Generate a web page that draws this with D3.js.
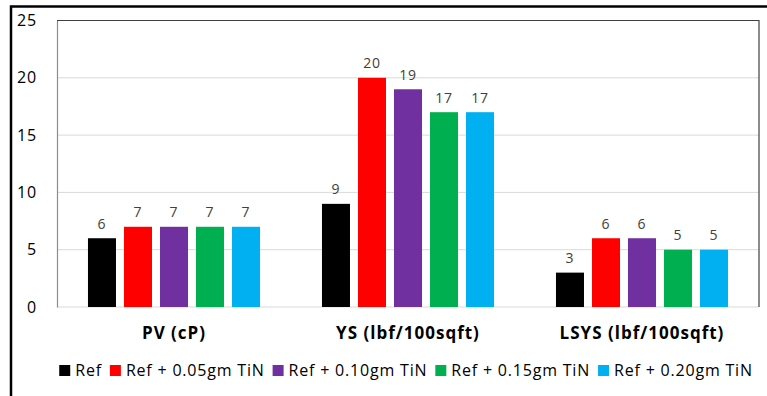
<!DOCTYPE html>
<html>
<head>
<meta charset="utf-8">
<script src="https://cdn.jsdelivr.net/npm/d3@7"></script>
<style>
  html, body { margin: 0; padding: 0; background: #fff; }
  svg { display: block; }
  text { font-family: "Open Sans", "Noto Sans", sans-serif; }
</style>
</head>
<body>
<svg id="chart" width="767" height="396"></svg>
<script>
// Drilling fluid rheology by TiN loading
const categories = ["PV (cP)", "YS (lbf/100sqft)", "LSYS (lbf/100sqft)"];
const seriesNames = ["Ref", "Ref + 0.05gm TiN", "Ref + 0.10gm TiN", "Ref + 0.15gm TiN", "Ref + 0.20gm TiN"];
const seriesColors = ["#000000", "#FF0000", "#7030A0", "#00B050", "#00B0F0"];
const refValues   = [6, 9, 3];
const tin005      = [7, 20, 6];
const tin010      = [7, 19, 6];
const tin015      = [7, 17, 5];
const tin020      = [7, 17, 5];
const yTicks = [0, 5, 10, 15, 20, 25];

const seriesValues = [refValues, tin005, tin010, tin015, tin020];

const svg = d3.select("#chart");

const plot = { left: 57, right: 759, top: 20.5, bottom: 307 };

const x0 = d3.scaleBand()
  .domain(categories)
  .range([plot.left, plot.right])
  .padding(0);

const x1 = d3.scaleBand()
  .domain(seriesNames)
  .range([0, x0.bandwidth()])
  .paddingInner(0.222)
  .paddingOuter(0.86);

const y = d3.scaleLinear()
  .domain([0, 25])
  .range([plot.bottom, plot.top]);

// outer frame (top and left edges)
svg.append("path")
  .attr("d", `M11,400 L11,6.5 L770,6.5`)
  .attr("fill", "none")
  .attr("stroke", "#000")
  .attr("stroke-width", 2.5);

// horizontal gridlines
svg.append("g")
  .selectAll("line")
  .data(yTicks.filter(t => t > 0 && t < 25))
  .join("line")
  .attr("x1", plot.left).attr("x2", plot.right)
  .attr("y1", d => y(d)).attr("y2", d => y(d))
  .attr("stroke", "#d9d9d9")
  .attr("stroke-width", 1);

// baseline
svg.append("line")
  .attr("x1", plot.left).attr("x2", plot.right)
  .attr("y1", y(0)).attr("y2", y(0))
  .attr("stroke", "#d9d9d9")
  .attr("stroke-width", 1.2);

// plot area border: top and right
svg.append("path")
  .attr("d", `M${plot.left},${y(25)} L${plot.right},${y(25)} L${plot.right},${y(0)}`)
  .attr("fill", "none")
  .attr("stroke", "#404040")
  .attr("stroke-width", 1.2);

// y axis
const yAxis = svg.append("g")
  .attr("transform", `translate(${plot.left},0)`)
  .call(d3.axisLeft(y).tickValues(yTicks).tickSize(0).tickPadding(20));
yAxis.select(".domain").attr("stroke", "#8c8c8c").attr("stroke-width", 1.2);
yAxis.selectAll("text")
  .attr("font-size", 16)
  .attr("letter-spacing", "0.8px")
  .attr("fill", "#000")
  .attr("font-family", "'Open Sans', sans-serif");

// bars
const rows = categories.map((c, i) => ({
  category: c,
  items: seriesNames.map((s, j) => ({ series: s, value: seriesValues[j][i], color: seriesColors[j] }))
}));

const groups = svg.append("g")
  .selectAll("g")
  .data(rows)
  .join("g")
  .attr("transform", d => `translate(${x0(d.category)},0)`);

groups.selectAll("rect")
  .data(d => d.items)
  .join("rect")
  .attr("x", d => x1(d.series))
  .attr("width", x1.bandwidth())
  .attr("y", d => y(d.value))
  .attr("height", d => y(0) - y(d.value))
  .attr("fill", d => d.color);

groups.selectAll("text.value")
  .data(d => d.items)
  .join("text")
  .attr("class", "value")
  .attr("x", d => x1(d.series) + x1.bandwidth() / 2)
  .attr("y", d => y(d.value) - 9.5)
  .attr("text-anchor", "middle")
  .attr("font-size", 14)
  .attr("letter-spacing", "0.8px")
  .attr("fill", "#404040")
  .text(d => d.value);

// category labels
svg.append("g")
  .selectAll("text")
  .data(categories)
  .join("text")
  .attr("x", d => x0(d) + x0.bandwidth() / 2)
  .attr("y", 339)
  .attr("text-anchor", "middle")
  .attr("font-size", 17)
  .attr("font-weight", "bold")
  .attr("letter-spacing", "1px")
  .attr("fill", "#000")
  .text(d => d);

// legend
const legend = svg.append("g");
const legendItems = legend.selectAll("g")
  .data(seriesNames.map((s, i) => ({ name: s, color: seriesColors[i] })))
  .join("g");
legendItems.append("rect")
  .attr("width", 11).attr("height", 11)
  .attr("y", 365)
  .attr("fill", d => d.color);
legendItems.append("text")
  .attr("x", 16)
  .attr("y", 376)
  .attr("font-size", 16)
  .attr("letter-spacing", "0.8px")
  .attr("fill", "#000")
  .text(d => d.name);

let cursor = 0;
const offsets = [];
legendItems.each(function () {
  const w = 16 + d3.select(this).select("text").node().getComputedTextLength();
  offsets.push(cursor);
  cursor += w + 8;
});
const legendWidth = cursor - 8;
const legendStart = 406 - legendWidth / 2;
legendItems.attr("transform", (d, i) => `translate(${legendStart + offsets[i]},0)`);
</script>
</body>
</html>
